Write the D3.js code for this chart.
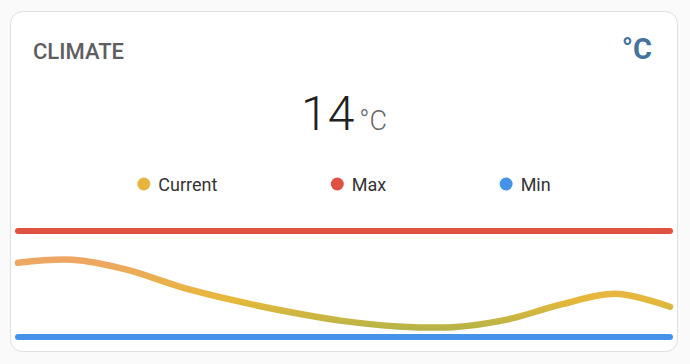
<!DOCTYPE html>
<html>
<head>
<meta charset="utf-8">
<script src="https://cdn.jsdelivr.net/npm/d3@7"></script>
<style>
  html, body { margin: 0; padding: 0; background: #fafafa; }
  svg { display: block; font-family: Roboto, "Noto Sans", sans-serif; }
</style>
</head>
<body>
<svg id="chart" width="690" height="364"></svg>
<script>
// series names shown in the legend
const seriesNames = ["Current", "Max", "Min"];
const seriesColors = ["#e8b440", "#e05141", "#4493e9"];

// current temperature over the last 24h (°C), one reading every 2 hours
const hours = [0, 2, 4, 6, 8, 10, 12, 14, 16, 18, 20, 22, 24];
const currentTemps = [19.8, 20.2, 18.9, 16.6, 14.8, 13.3, 12.1, 11.4, 11.3, 12.3, 14.3, 15.7, 14.0];
const maxTemp = 24;
const minTemp = 10;

// colour thresholds used on the current line
const thresholdValues = [11, 15, 20];
const thresholdColors = ["#b6b447", "#e6b83a", "#eda763"];

const title = "CLIMATE";
const stateValue = "14";
const unit = "°C";

const width = 690, height = 364;
const svg = d3.select("#chart");

// card
const card = { x: 10.5, y: 11.5, w: 667, h: 340 };
svg.append("rect")
    .attr("x", card.x).attr("y", card.y)
    .attr("width", card.w).attr("height", card.h)
    .attr("rx", 12)
    .attr("fill", "#fff")
    .attr("stroke", "#e0e0e0");

// header
svg.append("text")
    .attr("x", 33).attr("y", 59)
    .attr("font-size", 22).attr("font-weight", 500)
    .attr("fill", "#5e5e5e")
    .text(title);

svg.append("text")
    .attr("x", 652).attr("y", 59)
    .attr("text-anchor", "end")
    .attr("font-size", 29).attr("font-weight", 700)
    .attr("fill", "#44739e")
    .text(unit);

// state
const state = svg.append("text")
    .attr("x", 344).attr("y", 130)
    .attr("text-anchor", "middle")
    .attr("fill", "#212121");
state.append("tspan")
    .attr("font-size", 48).attr("font-weight", 300)
    .text(stateValue);
state.append("tspan")
    .attr("dx", 5)
    .attr("font-size", 27).attr("font-weight", 300)
    .attr("fill", "#666")
    .text(unit);

// legend, laid out space-evenly across the card
const legend = svg.append("g");
const items = legend.selectAll("g")
    .data(seriesNames)
    .enter().append("g");
items.append("circle")
    .attr("r", 6.5)
    .attr("cx", 6.5)
    .attr("cy", 184)
    .attr("fill", (d, i) => seriesColors[i]);
items.append("text")
    .attr("x", 21).attr("y", 191)
    .attr("font-size", 18)
    .attr("fill", "#333")
    .text(d => d);

const itemWidths = [];
items.each(function () { itemWidths.push(this.getBBox().width); });
const legendLeft = 24, legendRight = 664;
const gap = (legendRight - legendLeft - d3.sum(itemWidths)) / (itemWidths.length + 1);
let cursor = legendLeft + gap;
items.attr("transform", (d, i) => {
    const t = `translate(${cursor},0)`;
    cursor += itemWidths[i] + gap;
    return t;
});

// graph scales
const x = d3.scaleLinear()
    .domain(d3.extent(hours))
    .range([18, 670]);
const y = d3.scaleLinear()
    .domain([minTemp, maxTemp])
    .range([337, 231]);

// vertical gradient for the current line based on thresholds
const defs = svg.append("defs");
const grad = defs.append("linearGradient")
    .attr("id", "tempGrad")
    .attr("gradientUnits", "userSpaceOnUse")
    .attr("x1", 0).attr("x2", 0)
    .attr("y1", y(minTemp)).attr("y2", y(maxTemp));
thresholdValues.forEach((v, i) => {
    grad.append("stop")
        .attr("offset", (v - minTemp) / (maxTemp - minTemp))
        .attr("stop-color", thresholdColors[i]);
});

// max and min lines
[maxTemp, minTemp].forEach((t, i) => {
    svg.append("path")
        .datum(hours.map(h => [h, t]))
        .attr("fill", "none")
        .attr("stroke", seriesColors[i + 1])
        .attr("stroke-width", 6)
        .attr("stroke-linecap", "round")
        .attr("d", d3.line().x(d => x(d[0])).y(d => y(d[1])));
});

// current line
const line = d3.line()
    .x((d, i) => x(hours[i]))
    .y(d => y(d))
    .curve(d3.curveCatmullRom.alpha(0.5));

svg.append("path")
    .datum(currentTemps)
    .attr("fill", "none")
    .attr("stroke", "url(#tempGrad)")
    .attr("stroke-width", 6.5)
    .attr("stroke-linecap", "round")
    .attr("stroke-linejoin", "round")
    .attr("d", line);
</script>
</body>
</html>
